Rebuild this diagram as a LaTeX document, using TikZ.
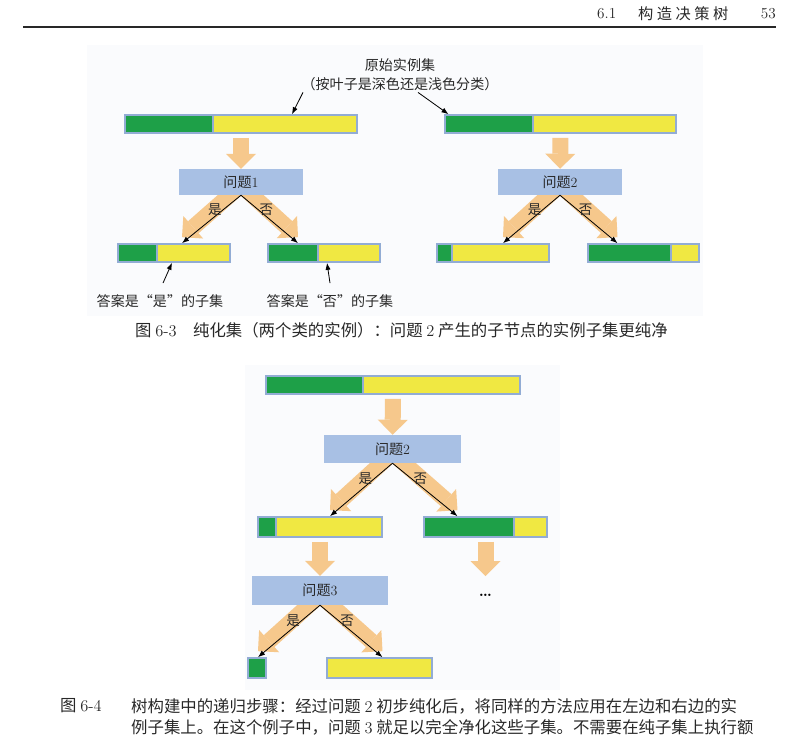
\documentclass[tikz,border=0pt]{standalone}
\usepackage{fontspec}
\newfontfamily\cjk{Noto Sans CJK SC}
\usepackage{xcolor}
\usetikzlibrary{arrows.meta,positioning,calc,backgrounds}

\definecolor{leafgreen}{RGB}{30,160,72}
\definecolor{leafyellow}{RGB}{240,232,66}
\definecolor{barframe}{RGB}{146,172,212}
\definecolor{askfill}{RGB}{168,192,228}
\definecolor{flowtan}{RGB}{246,200,140}
\definecolor{paneltint}{RGB}{250,251,253}
\definecolor{inkgray}{RGB}{40,40,40}

\begin{document}
\begin{tikzpicture}[
    x=0.03cm, y=-0.03cm,
    wide/.style={minimum width=#1*0.03cm},
    high/.style={minimum height=#1*0.03cm},
    setbar/.style={rectangle, draw=barframe, line width=1.4pt, fill=leafyellow, high=18, inner sep=0pt},
    dark/.style={path picture={
        \fill[leafgreen] (path picture bounding box.north west) rectangle ([xshift=#1*0.03cm]path picture bounding box.south west);
        \draw[barframe, line width=1.4pt] ([xshift=#1*0.03cm]path picture bounding box.north west) -- ([xshift=#1*0.03cm]path picture bounding box.south west);}},
    ask/.style={rectangle, fill=askfill, inner sep=0pt, text=inkgray, font=\fontsize{12pt}{13pt}\selectfont\cjk},
    flow/.style={draw=flowtan, line width=0.48cm, -{Triangle[width=0.9cm,length=0.45cm,line width=0pt]}},
    answer/.style={draw=black, line width=0.7pt, -{Latex[length=6pt,width=4.5pt]}},
    note/.style={font=\fontsize{12pt}{16pt}\selectfont\cjk, text=inkgray, inner sep=1pt, align=center},
    branchtxt/.style={font=\fontsize{11.5pt}{13pt}\selectfont\cjk, text=inkgray, inner sep=1pt},
    captxt/.style={font=\fontsize{14pt}{18pt}\selectfont\cjk, text=inkgray, inner sep=0pt},
    headtxt/.style={font=\fontsize{13pt}{16pt}\selectfont\cjk, text=inkgray, inner sep=0pt},
]
    \useasboundingbox (0,0) rectangle (807,752);

    % Faint figure panels
    \begin{scope}[on background layer]
        \fill[paneltint] (87,45) rectangle (703,316);
        \fill[paneltint] (245,365) rectangle (560,690);
    \end{scope}

    % Running head
    \node[headtxt, anchor=west] (secno) at (597,14) {\textrm{6.1}};
    \node[headtxt, anchor=west] (sectitle) at (638,14) {构\hspace{3pt}造\hspace{3pt}决\hspace{3pt}策\hspace{3pt}树};
    \node[headtxt, anchor=east] (pageno) at (776,14) {\textrm{53}};
    \draw[inkgray, line width=1pt] (23,27) -- (776,27);

    % Figure 6-3, question 1 (left)
    \node[note] (orig) at (400,75) {原始实例集\\（按叶子是深色还是浅色分类）};
    \node[setbar, wide=232, dark=88] (setA) at (241,124) {};
    \node[ask, wide=124, high=26] (q1) at (241,182) {问题\textrm{1}};
    \node[setbar, wide=112, dark=39] (yesA) at (174,253) {};
    \node[setbar, wide=112, dark=50] (noA) at (324,253) {};
    \node[note] (yesnote) at (160,301) {答案是“是”的子集};
    \node[note] (nonote) at (330,301) {答案是“否”的子集};

    % Figure 6-3, question 2 (right)
    \node[setbar, wide=231, dark=88] (setB) at (560.5,124) {};
    \node[ask, wide=124, high=26] (q2) at (560,182) {问题\textrm{2}};
    \node[setbar, wide=112, dark=15] (yesB) at (493,253) {};
    \node[setbar, wide=111, dark=83] (noB) at (643.5,253) {};

    \node[captxt, anchor=west] (cap3) at (135,330) {图 \textrm{6-3}\hspace{1em}纯化集（两个类的实例）：问题 \textrm{2} 产生的子节点的实例子集更纯净};

    % Figure 6-4, recursion
    \node[setbar, wide=254, dark=97] (setC) at (393,385) {};
    \node[ask, wide=137, high=28] (q2b) at (392.5,449) {问题\textrm{2}};
    \node[setbar, wide=124, high=20, dark=18] (yesC) at (320,527) {};
    \node[setbar, wide=123, high=20, dark=90] (noC) at (485.5,527) {};
    \node[ask, wide=136, high=29] (q3) at (320,590.5) {问题\textrm{3}};
    \node[font=\fontsize{14pt}{16pt}\selectfont\bfseries] (etc) at (485.5,595) {\ldots};
    \coordinate (cont) at (485.5,576);
    \node[setbar, wide=18, high=20, dark=18] (yesD) at (257,668) {};
    \node[setbar, wide=105, high=20, dark=0] (noD) at (379.5,668) {};

    \node[captxt, anchor=west] (fig4no) at (60,706) {图 \textrm{6-4}};
    \node[captxt, anchor=west] (cap4a) at (131,706) {树构建中的递归步骤：经过问题 \textrm{2} 初步纯化后，将同样的方法应用在左边和右边的实};
    \node[captxt, anchor=west] (cap4b) at (131,727) {例子集上。在这个例子中，问题 \textrm{3} 就足以完全净化这些子集。不需要在纯子集上执行额};

    % Broad arrows behind the boxes
    \begin{scope}[on background layer]
        \draw[flow, shorten <=0.12cm] (setA) -- (q1);
        \draw[flow, shorten <=0.12cm] (setB) -- (q2);
        \draw[flow, shorten <=0.12cm] (setC) -- (q2b);
        \draw[flow, shorten <=0.12cm] (yesC) -- (q3);
        \draw[flow, shorten <=0.12cm] (noC) -- (cont);
        \draw[flow] ([yshift=0.3cm]q1.south) -- ($(yesA.north)+(8,-6)$);
        \draw[flow] ([yshift=0.3cm]q1.south) -- ($(noA.north)+(-26,-6)$);
        \draw[flow] ([yshift=0.3cm]q2.south) -- ($(yesB.north)+(10,-6)$);
        \draw[flow] ([yshift=0.3cm]q2.south) -- ($(noB.north)+(-26,-6)$);
        \draw[flow] ([yshift=0.3cm]q2b.south) -- ($(yesC.north)+(10,-6)$);
        \draw[flow] ([yshift=0.3cm]q2b.south) -- ($(noC.north)+(-28,-6)$);
        \draw[flow] ([yshift=0.3cm]q3.south) -- ($(yesD.north)+(1,-6)$);
        \draw[flow] ([yshift=0.3cm]q3.south) -- ($(noD.north)+(3,-6)$);
    \end{scope}

    % Yes / no branches
    \draw[answer] (q1.south) -- ($(yesA.north)+(8,0)$) node[branchtxt, pos=0.3, left] {是};
    \draw[answer] (q1.south) -- ($(noA.north)+(-26,0)$) node[branchtxt, pos=0.3, right] {否};
    \draw[answer] (q2.south) -- ($(yesB.north)+(10,0)$) node[branchtxt, pos=0.3, left] {是};
    \draw[answer] (q2.south) -- ($(noB.north)+(-26,0)$) node[branchtxt, pos=0.3, right] {否};
    \draw[answer] (q2b.south) -- ($(yesC.north)+(10,0)$) node[branchtxt, pos=0.3, left] {是};
    \draw[answer] (q2b.south) -- ($(noC.north)+(-28,0)$) node[branchtxt, pos=0.3, right] {否};
    \draw[answer] (q3.south) -- ($(yesD.north)+(1,0)$) node[branchtxt, pos=0.3, left] {是};
    \draw[answer] (q3.south) -- ($(noD.north)+(3,0)$) node[branchtxt, pos=0.3, right] {否};

    % Pointers from the annotations
    \draw[answer] ($(orig.south)+(-97,0)$) -- ($(setA.north)+(51,0)$);
    \draw[answer] ($(orig.south)+(18,0)$) -- ($(setB.north)+(-112,0)$);
    \draw[answer] ($(yesnote.north)+(3,-10)$) -- ($(yesA.south)+(-2,0)$);
    \draw[answer] ($(nonote.north)+(0,-10)$) -- ($(noA.south)+(3,0)$);
\end{tikzpicture}
\end{document}
